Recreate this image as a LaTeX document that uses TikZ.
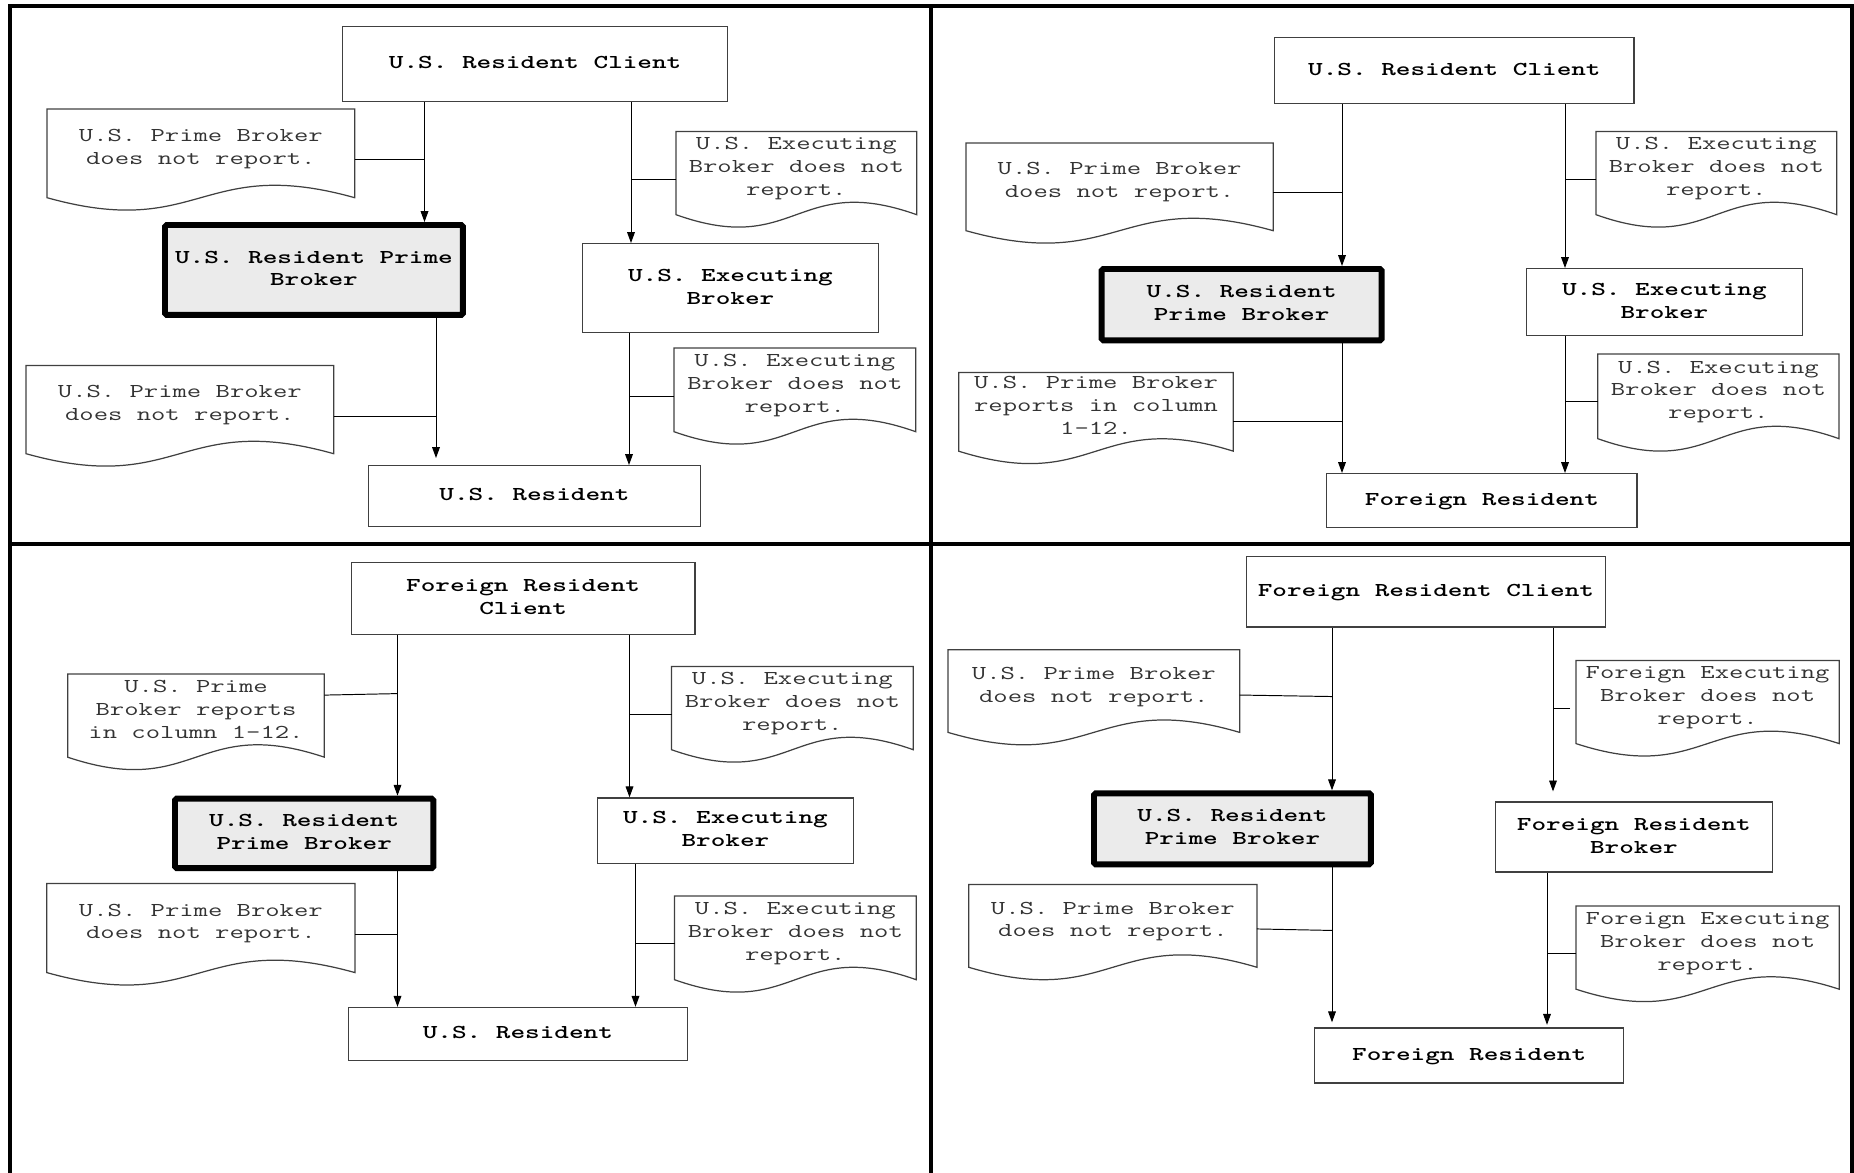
\documentclass[tikz,border=0pt]{standalone}
\usepackage{graphicx}
\usetikzlibrary{arrows.meta}
\definecolor{pbgray}{HTML}{EBEBEB}
\newcommand{\wtxt}[1]{\scalebox{1.415}[1]{\begin{tabular}{@{}c@{}}#1\end{tabular}}}
\newcommand{\ntxt}[1]{\raisebox{0.1cm}[\height][\depth]{\wtxt{#1}}}
\tikzset{
  flowbox/.style={draw=black!75, line width=0.8pt, anchor=north west, inner sep=0pt,
    font=\fontsize{11.2pt}{13pt}\selectfont\ttfamily\bfseries},
  primebox/.style={flowbox, draw=black, fill=pbgray, line width=3.4pt, rounded corners=1pt},
  notebox/.style={anchor=north west, inner sep=0pt, text=black!80,
    font=\fontsize{11.2pt}{13pt}\selectfont\ttfamily},
  noteline/.style={draw=black!75, line width=0.7pt},
  frameline/.style={line width=2.3pt},
  flow/.style={-{Triangle[length=6.2pt,width=4.4pt]}, line width=0.55pt},
  tie/.style={line width=0.55pt},
}
\begin{document}
\begin{tikzpicture}[x=0.02cm,y=-0.02cm]
  \useasboundingbox (0,0) rectangle (1854,1173);
  \draw[frameline] (10,1173) -- (10,6) -- (1852,6) -- (1852,1173);
  \draw[frameline] (931,6) -- (931,1173);
  \draw[frameline] (10,544) -- (1852,544);

  \node[flowbox, minimum width=7.70cm, minimum height=1.51cm] (tl-cl) at (342,25.6) {\wtxt{U.S. Resident Client}};
  \node[notebox, minimum width=6.14cm, minimum height=1.76cm] (tl-n1) at (47,109) {\ntxt{U.S. Prime Broker\\does not report.}};
  \node[primebox, minimum width=5.96cm, minimum height=1.80cm] (tl-pb) at (162,222) {\wtxt{U.S. Resident Prime\\Broker}};
  \node[notebox, minimum width=4.80cm, minimum height=1.65cm] (tl-n2) at (676,131.5) {\ntxt{U.S. Executing\\Broker does not\\report.}};
  \node[flowbox, minimum width=5.93cm, minimum height=1.78cm] (tl-eb) at (581.5,243) {\wtxt{U.S. Executing\\Broker}};
  \node[notebox, minimum width=4.82cm, minimum height=1.66cm] (tl-n3) at (674,348) {\ntxt{U.S. Executing\\Broker does not\\report.}};
  \node[notebox, minimum width=6.14cm, minimum height=1.75cm] (tl-n4) at (26,365.5) {\ntxt{U.S. Prime Broker\\does not report.}};
  \node[flowbox, minimum width=6.65cm, minimum height=1.22cm] (tl-rs) at (367.5,465) {\wtxt{U.S. Resident}};

  \node[flowbox, minimum width=7.19cm, minimum height=1.32cm] (tr-cl) at (1274,37) {\wtxt{U.S. Resident Client}};
  \node[notebox, minimum width=6.13cm, minimum height=1.74cm] (tr-n1) at (966,143) {\ntxt{U.S. Prime Broker\\does not report.}};
  \node[primebox, minimum width=5.60cm, minimum height=1.43cm] (tr-pb) at (1098.7,266) {\wtxt{U.S. Resident\\Prime Broker}};
  \node[notebox, minimum width=4.80cm, minimum height=1.65cm] (tr-n2) at (1596,131.5) {\ntxt{U.S. Executing\\Broker does not\\report.}};
  \node[flowbox, minimum width=5.52cm, minimum height=1.34cm] (tr-eb) at (1525.7,268) {\wtxt{U.S. Executing\\Broker}};
  \node[notebox, minimum width=4.81cm, minimum height=1.68cm] (tr-n3) at (1597.8,354) {\ntxt{U.S. Executing\\Broker does not\\report.}};
  \node[notebox, minimum width=5.48cm, minimum height=1.56cm] (tr-n4) at (958.7,372.5) {\ntxt{U.S. Prime Broker\\reports in column\\1-12.}};
  \node[flowbox, minimum width=6.21cm, minimum height=1.08cm] (tr-fr) at (1326,473) {\wtxt{Foreign Resident}};

  \node[flowbox, minimum width=6.87cm, minimum height=1.44cm] (bl-cl) at (350.7,561.6) {\wtxt{Foreign Resident\\Client}};
  \node[notebox, minimum width=5.12cm, minimum height=1.65cm] (bl-n1) at (67.7,674) {\ntxt{U.S. Prime\\Broker reports\\in column 1-12.}};
  \node[primebox, minimum width=5.17cm, minimum height=1.39cm] (bl-pb) at (172,795.7) {\wtxt{U.S. Resident\\Prime Broker}};
  \node[notebox, minimum width=4.82cm, minimum height=1.65cm] (bl-n2) at (671.5,666.5) {\ntxt{U.S. Executing\\Broker does not\\report.}};
  \node[flowbox, minimum width=5.13cm, minimum height=1.31cm] (bl-eb) at (596.5,797.3) {\wtxt{U.S. Executing\\Broker}};
  \node[notebox, minimum width=4.82cm, minimum height=1.66cm] (bl-n3) at (674.5,896) {\ntxt{U.S. Executing\\Broker does not\\report.}};
  \node[notebox, minimum width=6.15cm, minimum height=1.77cm] (bl-n4) at (46.8,883.4) {\ntxt{U.S. Prime Broker\\does not report.}};
  \node[flowbox, minimum width=6.78cm, minimum height=1.06cm] (bl-rs) at (347.7,1006.8) {\wtxt{U.S. Resident}};

  \node[flowbox, minimum width=7.18cm, minimum height=1.41cm] (br-cl) at (1245.8,555.8) {\wtxt{Foreign Resident Client}};
  \node[notebox, minimum width=5.82cm, minimum height=1.64cm] (br-n1) at (948,649.7) {\ntxt{U.S. Prime Broker\\does not report.}};
  \node[primebox, minimum width=5.54cm, minimum height=1.42cm] (br-pb) at (1091,790.3) {\wtxt{U.S. Resident\\Prime Broker}};
  \node[notebox, minimum width=5.25cm, minimum height=1.65cm] (br-n2) at (1576,660.4) {\ntxt{Foreign Executing\\Broker does not\\report.}};
  \node[flowbox, minimum width=5.54cm, minimum height=1.40cm] (br-fb) at (1494.7,801.4) {\wtxt{Foreign Resident\\Broker}};
  \node[notebox, minimum width=5.25cm, minimum height=1.65cm] (br-n3) at (1576,906) {\ntxt{Foreign Executing\\Broker does not\\report.}};
  \node[notebox, minimum width=5.75cm, minimum height=1.64cm] (br-n4) at (968.8,884.6) {\ntxt{U.S. Prime Broker\\does not report.}};
  \node[flowbox, minimum width=6.18cm, minimum height=1.10cm] (br-fr) at (1314,1027.3) {\wtxt{Foreign Resident}};

  \foreach \n in {tl-n1,tl-n2,tl-n3,tl-n4,tr-n1,tr-n2,tr-n3,tr-n4,
                  bl-n1,bl-n2,bl-n3,bl-n4,br-n1,br-n2,br-n3,br-n4}
    \draw[noteline] (\n.north west) -- (\n.north east) -- (\n.south east)
      .. controls ([yshift=0.86cm]\n.south) and ([yshift=-0.86cm]\n.south) .. (\n.south west) -- cycle;

  \coordinate (tl-v1) at (424.5,0);
  \coordinate (tl-v2) at (631,0);
  \coordinate (tl-v3) at (436,0);
  \coordinate (tl-v4) at (629,0);
  \coordinate (tr-v1) at (1342,0);
  \coordinate (tr-v2) at (1565,0);
  \coordinate (bl-v1) at (397.5,0);
  \coordinate (bl-v2) at (629.5,0);
  \coordinate (bl-v3) at (635.5,0);
  \coordinate (br-v1) at (1332,0);
  \coordinate (br-v2) at (1553,0);
  \coordinate (br-v3) at (1547,0);

  \begin{scope}[flow]
    \draw (tl-cl.south -| tl-v1) -- (tl-pb.north -| tl-v1);
    \draw (tl-cl.south -| tl-v2) -- (tl-eb.north -| tl-v2);
    \draw[shorten >=0.14cm] (tl-pb.south -| tl-v3) -- (tl-rs.north -| tl-v3);
    \draw (tl-eb.south -| tl-v4) -- (tl-rs.north -| tl-v4);
    \draw (tr-cl.south -| tr-v1) -- (tr-pb.north -| tr-v1);
    \draw (tr-cl.south -| tr-v2) -- (tr-eb.north -| tr-v2);
    \draw (tr-pb.south -| tr-v1) -- (tr-fr.north -| tr-v1);
    \draw (tr-eb.south -| tr-v2) -- (tr-fr.north -| tr-v2);
    \draw (bl-cl.south -| bl-v1) -- (bl-pb.north -| bl-v1);
    \draw (bl-cl.south -| bl-v2) -- (bl-eb.north -| bl-v2);
    \draw (bl-pb.south -| bl-v1) -- (bl-rs.north -| bl-v1);
    \draw (bl-eb.south -| bl-v3) -- (bl-rs.north -| bl-v3);
    \draw (br-cl.south -| br-v1) -- (br-pb.north -| br-v1);
    \draw[shorten >=0.2cm] (br-cl.south -| br-v2) -- (br-fb.north -| br-v2);
    \draw[shorten >=0.1cm] (br-pb.south -| br-v1) -- (br-fr.north -| br-v1);
    \draw[shorten >=0.05cm] (br-fb.south -| br-v3) -- (br-fr.north -| br-v3);
  \end{scope}

  \begin{scope}[tie]
    \draw ([yshift=-0.12cm]tl-n1.east) -- ([yshift=-0.12cm]tl-n1.east -| tl-v1);
    \draw ([yshift=-0.12cm]tl-n2.west) -- ([yshift=-0.12cm]tl-n2.west -| tl-v2);
    \draw ([yshift=-0.13cm]tl-n3.west) -- ([yshift=-0.13cm]tl-n3.west -| tl-v4);
    \draw ([yshift=-0.13cm]tl-n4.east) -- ([yshift=-0.13cm]tl-n4.east -| tl-v3);
    \draw ([yshift=-0.11cm]tr-n1.east) -- ([yshift=-0.11cm]tr-n1.east -| tr-v1);
    \draw ([yshift=-0.12cm]tr-n2.west) -- ([yshift=-0.12cm]tr-n2.west -| tr-v2);
    \draw ([yshift=-0.11cm]tr-n3.west) -- ([yshift=-0.11cm]tr-n3.west -| tr-v2);
    \draw ([yshift=-0.19cm]tr-n4.east) -- ([yshift=-0.19cm]tr-n4.east -| tr-v1);
    \draw ([yshift=0.41cm]bl-n1.east) -- ([yshift=0.44cm]bl-n1.east -| bl-v1);
    \draw ([yshift=-0.12cm]bl-n2.west) -- ([yshift=-0.12cm]bl-n2.west -| bl-v2);
    \draw ([yshift=-0.11cm]bl-n3.west) -- ([yshift=-0.11cm]bl-n3.west -| bl-v3);
    \draw ([yshift=-0.13cm]bl-n4.east) -- ([yshift=-0.13cm]bl-n4.east -| bl-v1);
    \draw ([yshift=-0.08cm]br-n1.east) -- ([yshift=-0.11cm]br-n1.east -| br-v1);
    \draw[shorten <=0.12cm] ([yshift=-0.13cm]br-n2.west) -- ([yshift=-0.13cm]br-n2.west -| br-v2);
    \draw ([yshift=-0.12cm]br-n3.west) -- ([yshift=-0.12cm]br-n3.west -| br-v3);
    \draw ([yshift=-0.06cm]br-n4.east) -- ([yshift=-0.09cm]br-n4.east -| br-v1);
  \end{scope}
\end{tikzpicture}
\end{document}
